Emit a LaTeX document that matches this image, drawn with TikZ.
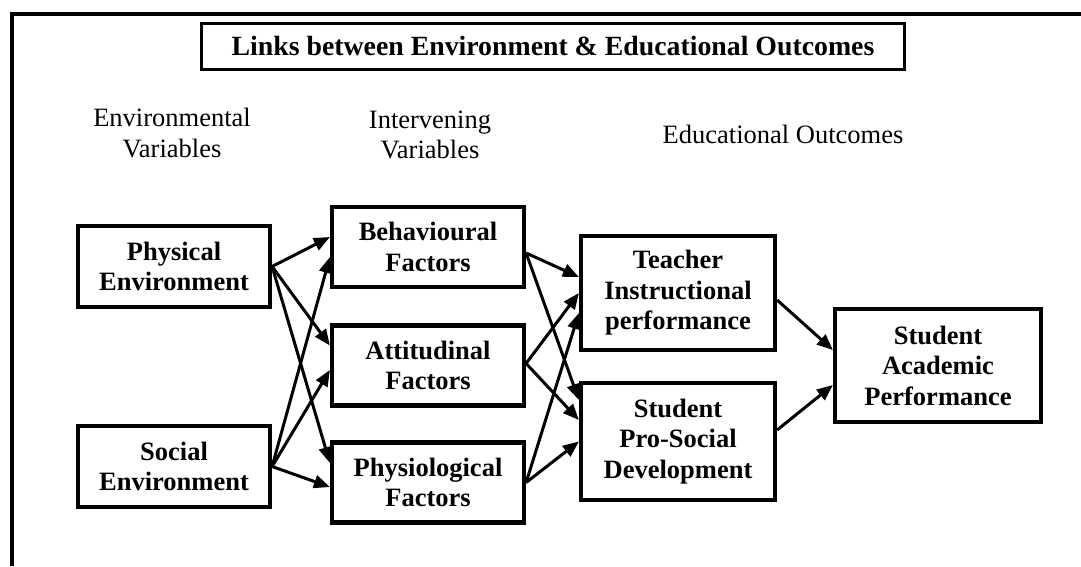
\documentclass[tikz,border=0pt]{standalone}
\usepackage{fontspec}
\setmainfont{Liberation Serif}
\usepackage{tikz}
\usetikzlibrary{arrows.meta}
\tikzset{
  frame/.style={draw=black, line width=3.2pt},
  box/.style={draw=black, line width=4.2pt, align=center, inner sep=0pt,
    font=\bfseries\fontsize{26.5}{30.5}\selectfont},
  head/.style={text=black, align=center, inner sep=0pt,
    font=\fontsize{26.5}{30.5}\selectfont},
  link/.style={draw=black, line width=3pt, -{Triangle[length=16pt,width=13pt]}}
}

\begin{document}
\begin{tikzpicture}[x=1pt,y=-1pt]
  \useasboundingbox (0,0) rectangle (1081,566);
  \coordinate (fa) at (12,566);
  \coordinate (fb) at (1085,14);
  \draw[frame] (fa) |- (fb);

  \node[box, line width=3.6pt, minimum width=703pt, minimum height=46pt,
    font=\bfseries\fontsize{27.8}{31}\selectfont] (title) at (553,46.5)
    {Links between Environment \& Educational Outcomes};

  \node[head] (envvar) at (172,133) {Environmental\\Variables};
  \node[head] (intvar) at (430,135) {Intervening\\Variables};
  \node[head] (eduout) at (783,134) {Educational Outcomes};

  % environmental variables
  \node[box, minimum width=192pt, minimum height=81pt] (phys) at (174,266.5) {Physical\\Environment};
  \node[box, minimum width=192pt, minimum height=81pt] (soc) at (174,466.5) {Social\\Environment};
  % intervening variables
  \node[box, minimum width=192pt, minimum height=80pt] (beh) at (428,247) {Behavioural\\Factors};
  \node[box, minimum width=192pt, minimum height=80pt] (att) at (428,365.5) {Attitudinal\\Factors};
  \node[box, minimum width=192pt, minimum height=80pt] (phy) at (428,482.5) {Physiological\\Factors};
  % educational outcomes
  \node[box, minimum width=194pt, minimum height=114pt] (tea) at (678,293) {Teacher\\Instructional\\performance};
  \node[box, minimum width=194pt, minimum height=117pt] (sps) at (678,441.5) {Student\\Pro-Social\\Development};
  \node[box, minimum width=206pt, minimum height=113pt] (sap) at (938,365.5) {Student\\Academic\\Performance};

  \draw[link] (phys.east) -- ([yshift=10pt]beh.west);
  \draw[link] (phys.east) -- ([yshift=20pt]att.west);
  \draw[link] (phys.east) -- ([yshift=19.5pt]phy.west);
  \draw[link] (soc.east) -- ([yshift=-10pt]beh.west);
  \draw[link] (soc.east) -- ([yshift=-4.5pt]att.west);
  \draw[link] (soc.east) -- ([yshift=-4.5pt]phy.west);

  \draw[link] ([yshift=-6pt]beh.east) -- ([yshift=16pt]tea.west);
  \draw[link] ([yshift=-6pt]beh.east) -- ([yshift=41.5pt]sps.west);
  \draw[link] ([yshift=2pt]att.east) -- (tea.west);
  \draw[link] ([yshift=2pt]att.east) -- ([yshift=21.5pt]sps.west);
  \draw[link] (phy.east) -- ([yshift=-20pt]tea.west);
  \draw[link] (phy.east) -- (sps.west);

  \draw[link] ([yshift=-7pt]tea.east) -- ([yshift=15.5pt]sap.west);
  \draw[link] ([yshift=11.5pt]sps.east) -- ([yshift=-19.5pt]sap.west);
\end{tikzpicture}
\end{document}
